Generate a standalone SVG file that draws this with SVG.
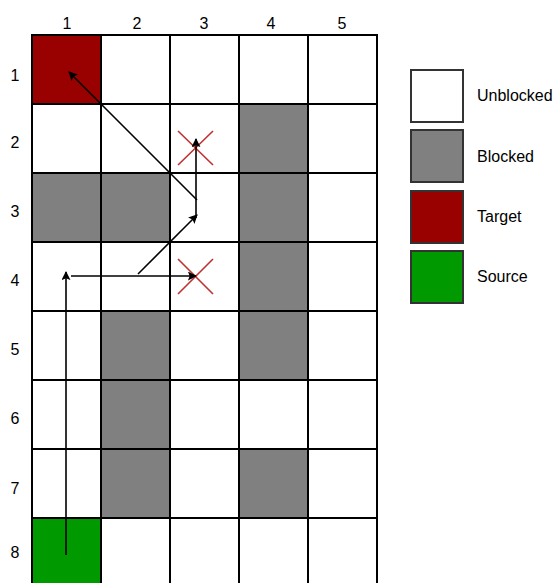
<svg xmlns="http://www.w3.org/2000/svg" width="554" height="583" viewBox="0 0 554 583">
<defs>
<style>
.cell{stroke:#000;stroke-width:2;}
.w{fill:#fff;}
.b{fill:#808080;}
.t{fill:#990000;}
.s{fill:#009900;}
.lbl{font-family:"Liberation Sans",Arial,sans-serif;font-size:16px;fill:#000;}
.leg{stroke:#333;stroke-width:2;}
.path{stroke:#000;stroke-width:1.6;fill:none;}
.x{stroke:#c03030;stroke-width:1.6;}
</style>
<marker id="ah" viewBox="0 0 10 10" refX="9" refY="5" markerWidth="9" markerHeight="9" markerUnits="userSpaceOnUse" orient="auto">
<path d="M0,0 L10,5 L0,10 L2,5 Z" fill="#000"/>
</marker>
</defs>
<rect width="554" height="583" fill="#fff"/>
<g id="grid">
<rect class="cell t" x="32" y="35" width="69" height="69"/>
<rect class="cell w" x="101" y="35" width="69" height="69"/>
<rect class="cell w" x="170" y="35" width="69" height="69"/>
<rect class="cell w" x="239" y="35" width="69" height="69"/>
<rect class="cell w" x="308" y="35" width="69" height="69"/>
<rect class="cell w" x="32" y="104" width="69" height="69"/>
<rect class="cell w" x="101" y="104" width="69" height="69"/>
<rect class="cell w" x="170" y="104" width="69" height="69"/>
<rect class="cell b" x="239" y="104" width="69" height="69"/>
<rect class="cell w" x="308" y="104" width="69" height="69"/>
<rect class="cell b" x="32" y="173" width="69" height="69"/>
<rect class="cell b" x="101" y="173" width="69" height="69"/>
<rect class="cell w" x="170" y="173" width="69" height="69"/>
<rect class="cell b" x="239" y="173" width="69" height="69"/>
<rect class="cell w" x="308" y="173" width="69" height="69"/>
<rect class="cell w" x="32" y="242" width="69" height="69"/>
<rect class="cell w" x="101" y="242" width="69" height="69"/>
<rect class="cell w" x="170" y="242" width="69" height="69"/>
<rect class="cell b" x="239" y="242" width="69" height="69"/>
<rect class="cell w" x="308" y="242" width="69" height="69"/>
<rect class="cell w" x="32" y="311" width="69" height="69"/>
<rect class="cell b" x="101" y="311" width="69" height="69"/>
<rect class="cell w" x="170" y="311" width="69" height="69"/>
<rect class="cell b" x="239" y="311" width="69" height="69"/>
<rect class="cell w" x="308" y="311" width="69" height="69"/>
<rect class="cell w" x="32" y="380" width="69" height="69"/>
<rect class="cell b" x="101" y="380" width="69" height="69"/>
<rect class="cell w" x="170" y="380" width="69" height="69"/>
<rect class="cell w" x="239" y="380" width="69" height="69"/>
<rect class="cell w" x="308" y="380" width="69" height="69"/>
<rect class="cell w" x="32" y="449" width="69" height="69"/>
<rect class="cell b" x="101" y="449" width="69" height="69"/>
<rect class="cell w" x="170" y="449" width="69" height="69"/>
<rect class="cell b" x="239" y="449" width="69" height="69"/>
<rect class="cell w" x="308" y="449" width="69" height="69"/>
<rect class="cell s" x="32" y="518" width="69" height="69"/>
<rect class="cell w" x="101" y="518" width="69" height="69"/>
<rect class="cell w" x="170" y="518" width="69" height="69"/>
<rect class="cell w" x="239" y="518" width="69" height="69"/>
<rect class="cell w" x="308" y="518" width="69" height="69"/>
</g>
<g id="col-labels" class="lbl" text-anchor="middle">
<text x="67" y="29">1</text>
<text x="137" y="29">2</text>
<text x="204" y="29">3</text>
<text x="271" y="29">4</text>
<text x="342" y="29">5</text>
</g>
<g id="row-labels" class="lbl" text-anchor="middle">
<text x="15" y="81">1</text>
<text x="15" y="148">2</text>
<text x="15" y="217">3</text>
<text x="15" y="286">4</text>
<text x="15" y="355">5</text>
<text x="15" y="424">6</text>
<text x="15" y="494">7</text>
<text x="15" y="558">8</text>
</g>
<g id="crosses">
<path class="x" d="M178,131 L213,165 M213,131 L178,165"/>
<path class="x" d="M178,259 L213,294 M213,259 L178,294"/>
</g>
<g id="connectors">
<line class="path" x1="66" y1="555" x2="66" y2="272" marker-end="url(#ah)"/>
<line class="path" x1="71" y1="276" x2="196" y2="276" marker-end="url(#ah)"/>
<line class="path" x1="138" y1="274" x2="197" y2="215" marker-end="url(#ah)"/>
<line class="path" x1="196" y1="218" x2="196" y2="139" marker-end="url(#ah)"/>
<line class="path" x1="197" y1="200" x2="69" y2="72" marker-end="url(#ah)"/>
</g>
<g id="legend-unblocked">
<rect class="leg w" x="411" y="70" width="52" height="52"/>
<text class="lbl" x="477" y="101">Unblocked</text>
</g>
<g id="legend-blocked">
<rect class="leg b" x="411" y="130" width="52" height="52"/>
<text class="lbl" x="477" y="162">Blocked</text>
</g>
<g id="legend-target">
<rect class="leg t" x="411" y="191" width="52" height="52"/>
<text class="lbl" x="477" y="222">Target</text>
</g>
<g id="legend-source">
<rect class="leg s" x="411" y="251" width="52" height="52"/>
<text class="lbl" x="477" y="282">Source</text>
</g>
</svg>
